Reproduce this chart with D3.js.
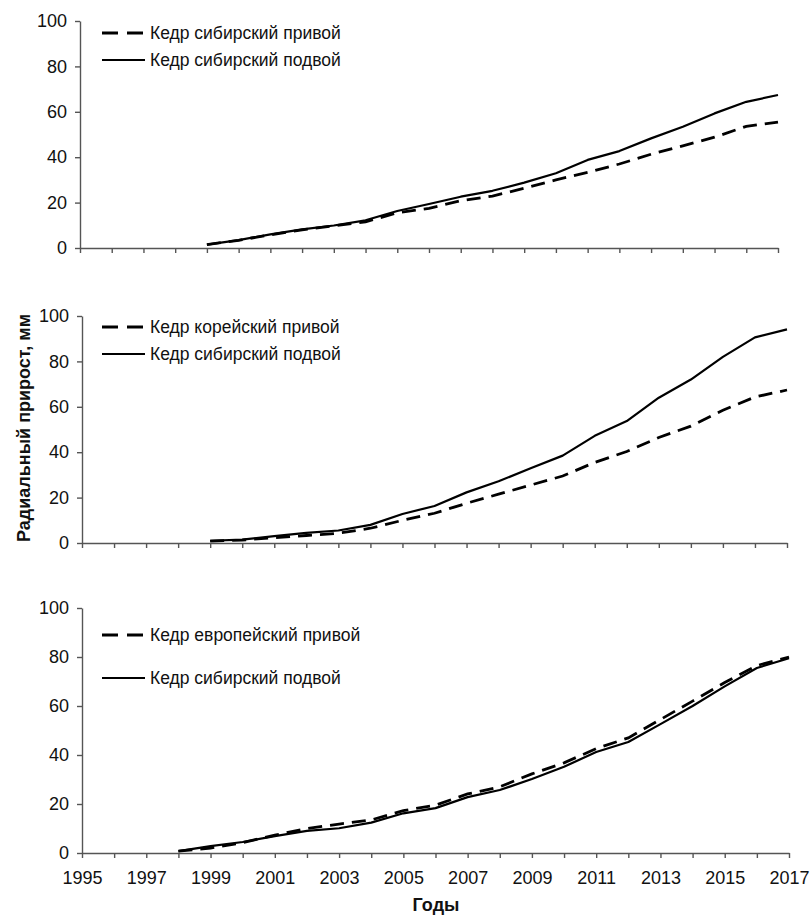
<!DOCTYPE html>
<html><head><meta charset="utf-8">
<script src="https://cdn.jsdelivr.net/npm/d3@7"></script>
<style>body{margin:0;background:#fff}svg{display:block}</style>
</head><body>
<svg id="c" width="810" height="916"></svg>
<script>
const years1 = [1999,2000,2001,2002,2003,2004,2005,2006,2007,2008,2009,2010,2011,2012,2013,2014,2015,2016,2017];
const p1Scion = [1.5,3.4,5.8,8.0,9.8,11.5,15.5,17.5,20.8,22.9,26.3,30.0,33.3,37.0,41.3,45.0,48.8,53.6,55.5];
const p1Stock = [1.5,3.5,6.0,8.2,9.9,12.2,16.3,19.4,22.6,25.2,28.8,32.9,38.8,42.7,48.3,53.4,59.3,64.4,67.4];
const years2 = years1;
const p2Scion = [0.8,1.3,2.3,3.3,4.3,6.5,10.0,13.1,17.5,21.5,25.5,29.5,35.5,40.3,46.5,51.5,58.5,64.3,67.4];
const p2Stock = [1.0,1.5,3.0,4.5,5.5,8.0,12.8,16.3,22.3,27.2,32.9,38.5,47.2,53.7,64.0,72.0,82.0,90.6,94.1];
const years3 = [1998,1999,2000,2001,2002,2003,2004,2005,2006,2007,2008,2009,2010,2011,2012,2013,2014,2015,2016,2017];
const p3Scion = [0.8,2.0,4.2,7.3,10.0,11.8,13.5,17.3,19.5,24.1,27.0,32.3,36.8,42.6,47.0,54.5,62.0,69.6,76.5,80.0];
const p3Stock = [0.8,2.8,4.5,6.9,9.0,10.1,12.4,16.2,18.3,22.8,25.7,30.2,35.2,41.2,45.3,52.6,60.0,68.0,75.5,79.5];
const legend1 = ["Кедр сибирский привой","Кедр сибирский подвой"];
const legend2 = ["Кедр корейский привой","Кедр сибирский подвой"];
const legend3 = ["Кедр европейский привой","Кедр сибирский подвой"];
const yTicks = [0,20,40,60,80,100];
const xTickYears = d3.range(1995,2018);
const xLabelYears = [1995,1997,1999,2001,2003,2005,2007,2009,2011,2013,2015,2017];
const yTitle = "Радиальный прирост, мм";
const xTitle = "Годы";

const svg = d3.select("#c");
const FONT = "'Liberation Sans', Arial, sans-serif";
const AX = "#555";

function panel(cfg){
  const x = d3.scaleLinear().domain([1995,2017]).range([cfg.left,cfg.right]);
  const y = d3.scaleLinear().domain([0,100]).range([cfg.bottom,cfg.top]);
  const g = svg.append("g");
  const ya = g.append("g").attr("transform",`translate(${cfg.left},0)`)
    .call(d3.axisLeft(y).tickValues(yTicks).tickSize(5).tickPadding(8).tickSizeOuter(0));
  const xa = g.append("g").attr("transform",`translate(0,${cfg.bottom})`)
    .call(d3.axisBottom(x).tickValues(xTickYears).tickSize(5).tickSizeOuter(0)
      .tickFormat(d => cfg.labels && xLabelYears.includes(d) ? String(d) : "").tickPadding(13));
  [ya,xa].forEach(a=>{
    a.select(".domain").attr("stroke",AX).attr("stroke-width",1.4);
    a.selectAll(".tick line").attr("stroke",AX).attr("stroke-width",1.4);
    a.selectAll("text").attr("font-family",FONT).attr("font-size",18).attr("fill","#111");
  });
  const line = d3.line().x((d,i)=>x(cfg.years[i])).y(d=>y(d));
  g.append("path").attr("d",line(cfg.stock)).attr("fill","none").attr("stroke","#000").attr("stroke-width",2.2).attr("stroke-linejoin","round");
  g.append("path").attr("d",line(cfg.scion)).attr("fill","none").attr("stroke","#000").attr("stroke-width",2.8).attr("stroke-dasharray","14,8");
  const lg = g.append("g");
  lg.append("line").attr("x1",102).attr("x2",144).attr("y1",cfg.ly[0]).attr("y2",cfg.ly[0])
    .attr("stroke","#000").attr("stroke-width",3).attr("stroke-dasharray","16,9");
  lg.append("line").attr("x1",102).attr("x2",145).attr("y1",cfg.ly[1]).attr("y2",cfg.ly[1])
    .attr("stroke","#000").attr("stroke-width",2.2);
  cfg.legend.forEach((t,i)=>{
    lg.append("text").attr("x",150).attr("y",cfg.ly[i]).attr("dy","0.35em")
      .attr("font-family",FONT).attr("font-size",17.5).attr("fill","#111").text(t);
  });
}

panel({left:80,right:778,top:21,bottom:248,years:years1,scion:p1Scion,stock:p1Stock,legend:legend1,ly:[33,60],labels:false});
panel({left:82,right:787,top:316,bottom:543,years:years2,scion:p2Scion,stock:p2Stock,legend:legend2,ly:[327,354],labels:false});
panel({left:82,right:789,top:608,bottom:853,years:years3,scion:p3Scion,stock:p3Stock,legend:legend3,ly:[635,678],labels:true});

svg.append("text").attr("transform","translate(24,428) rotate(-90)").attr("text-anchor","middle")
  .attr("dy","0.35em").attr("font-family",FONT).attr("font-size",18).attr("font-weight","bold").attr("fill","#111").text(yTitle);
svg.append("text").attr("x",436).attr("y",905).attr("text-anchor","middle").attr("dy","0.35em")
  .attr("font-family",FONT).attr("font-size",18).attr("font-weight","bold").attr("fill","#111").text(xTitle);
</script>
</body></html>
